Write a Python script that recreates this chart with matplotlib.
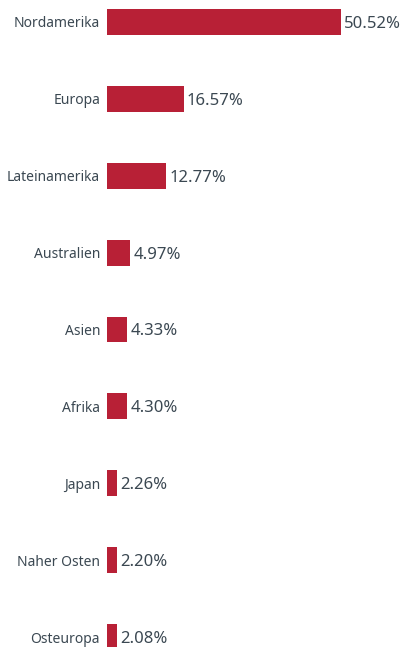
import matplotlib
matplotlib.use("Agg")
import matplotlib.pyplot as plt

regions = ["Nordamerika", "Europa", "Lateinamerika", "Australien", "Asien",
           "Afrika", "Japan", "Naher Osten", "Osteuropa"]
shares = [50.52, 16.57, 12.77, 4.97, 4.33, 4.30, 2.26, 2.20, 2.08]

bar_color = "#b82036"
text_color = "#3b4852"

plt.rcParams["font.family"] = ["Noto Sans", "DejaVu Sans"]

fig = plt.figure(figsize=(4.03, 6.47), dpi=100)
ax = fig.add_axes([107 / 403, 0, 296 / 403, 1])

ypos = list(range(len(regions)))
ax.barh(ypos, shares, height=0.338, color=bar_color)

for y, v in zip(ypos, shares):
    ax.text(v + 0.7, y, f"{v:.2f}%", va="center_baseline", ha="left",
            fontsize=12, color=text_color)

ax.set_xlim(0, 63.9)
ax.set_ylim(8.13, -0.286)
ax.set_yticks(ypos)
ax.set_yticklabels(regions, fontsize=10, color=text_color, va="center_baseline")
ax.tick_params(axis="y", length=0, pad=5)
ax.set_xticks([])
for s in ax.spines.values():
    s.set_visible(False)

fig.savefig("out.png", dpi=100)
